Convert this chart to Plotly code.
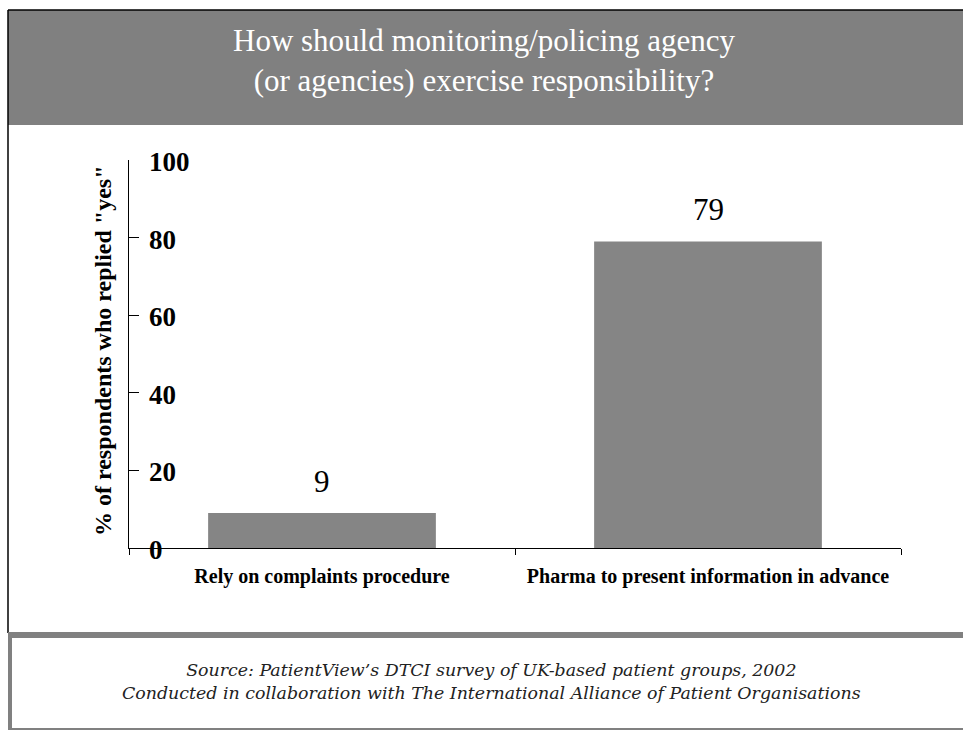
import plotly.graph_objects as go

# Survey results
categories = ["Rely on complaints procedure", "Pharma to present information in advance"]
values = [9, 79]
y_ticks = [0, 20, 40, 60, 80, 100]

W, H = 963, 731
SERIF = "Liberation Serif, Times New Roman, Times, serif"


def px(x):
    return x / W


def py(y):
    return 1 - y / H


fig = go.Figure()
fig.add_trace(go.Bar(
    x=categories,
    y=values,
    marker=dict(color="#858585", line=dict(width=0)),
    width=0.59,
    cliponaxis=False,
))

shapes = [
    # title band
    dict(type="rect", xref="paper", yref="paper", x0=px(8), x1=px(963), y0=py(125), y1=py(10),
         fillcolor="#808080", line=dict(width=0), layer="below"),
    # frame top & left
    dict(type="line", xref="paper", yref="paper", x0=px(8), x1=px(963), y0=py(10), y1=py(10),
         line=dict(color="black", width=1.5)),
    dict(type="line", xref="paper", yref="paper", x0=px(8), x1=px(8), y0=py(10), y1=py(633),
         line=dict(color="black", width=1.5)),
    # footer box
    dict(type="rect", xref="paper", yref="paper", x0=px(8), x1=px(963), y0=py(638), y1=py(632),
         fillcolor="#808080", line=dict(width=0)),
    dict(type="rect", xref="paper", yref="paper", x0=px(8), x1=px(12), y0=py(730), y1=py(632),
         fillcolor="#808080", line=dict(width=0)),
    dict(type="line", xref="paper", yref="paper", x0=px(8), x1=px(963), y0=py(729), y1=py(729),
         line=dict(color="#808080", width=2)),
]

annotations = [
    dict(text="How should monitoring/policing agency<br>(or agencies) exercise responsibility?",
         xref="paper", yref="paper", x=px(484), y=py(61), xanchor="center", yanchor="middle",
         showarrow=False, align="center",
         font=dict(family=SERIF, size=31, color="white")),
    dict(text="Source: PatientView\u2019s DTCI survey of UK-based patient groups, 2002<br>"
              "Conducted in collaboration with The International Alliance of Patient Organisations",
         xref="paper", yref="paper", x=px(491), y=py(681), xanchor="center", yanchor="middle",
         showarrow=False, align="center",
         font=dict(family="DejaVu Serif", size=17.4, color="#222222", style="italic")),
    # y-axis title
    dict(text="% of respondents who replied \"yes\"",
         xref="paper", yref="paper", x=px(103), y=py(351), xanchor="center", yanchor="middle",
         textangle=-90, showarrow=False,
         font=dict(family=SERIF, size=24, color="black", weight="bold")),
]

# y tick labels sit to the right of the axis line
for t in y_ticks:
    annotations.append(dict(
        text=str(t), xref="paper", yref="y", x=px(147), y=t,
        xanchor="left", yanchor="middle", yshift=-2, showarrow=False,
        font=dict(family=SERIF, size=27, color="black", weight="bold"),
    ))

# value labels above bars
for c, v in zip(categories, values):
    annotations.append(dict(
        text=str(v), xref="x", yref="y", x=c, y=v,
        xanchor="center", yanchor="bottom", yshift=12, showarrow=False,
        font=dict(family=SERIF, size=31, color="black"),
    ))

fig.update_layout(
    width=W, height=H,
    margin=dict(l=0, r=0, t=0, b=0),
    paper_bgcolor="white", plot_bgcolor="white",
    showlegend=False,
    shapes=shapes,
    annotations=annotations,
    xaxis=dict(
        domain=[px(129), px(901)],
        range=[-0.5, 1.5],
        showline=True, linecolor="black", linewidth=1,
        ticks="outside", ticklen=6, tickcolor="black", tickson="boundaries",
        ticklabelstandoff=10,
        tickfont=dict(family=SERIF, size=20, color="black", weight="bold"),
        showgrid=False, zeroline=False,
    ),
    yaxis=dict(
        domain=[py(548), py(160)],
        range=[0, 100],
        tickvals=y_ticks,
        ticks="inside", ticklen=10, tickcolor="black",
        showticklabels=False,
        showline=True, linecolor="black", linewidth=1,
        showgrid=False, zeroline=False,
    ),
)

fig.write_html("out.html")
